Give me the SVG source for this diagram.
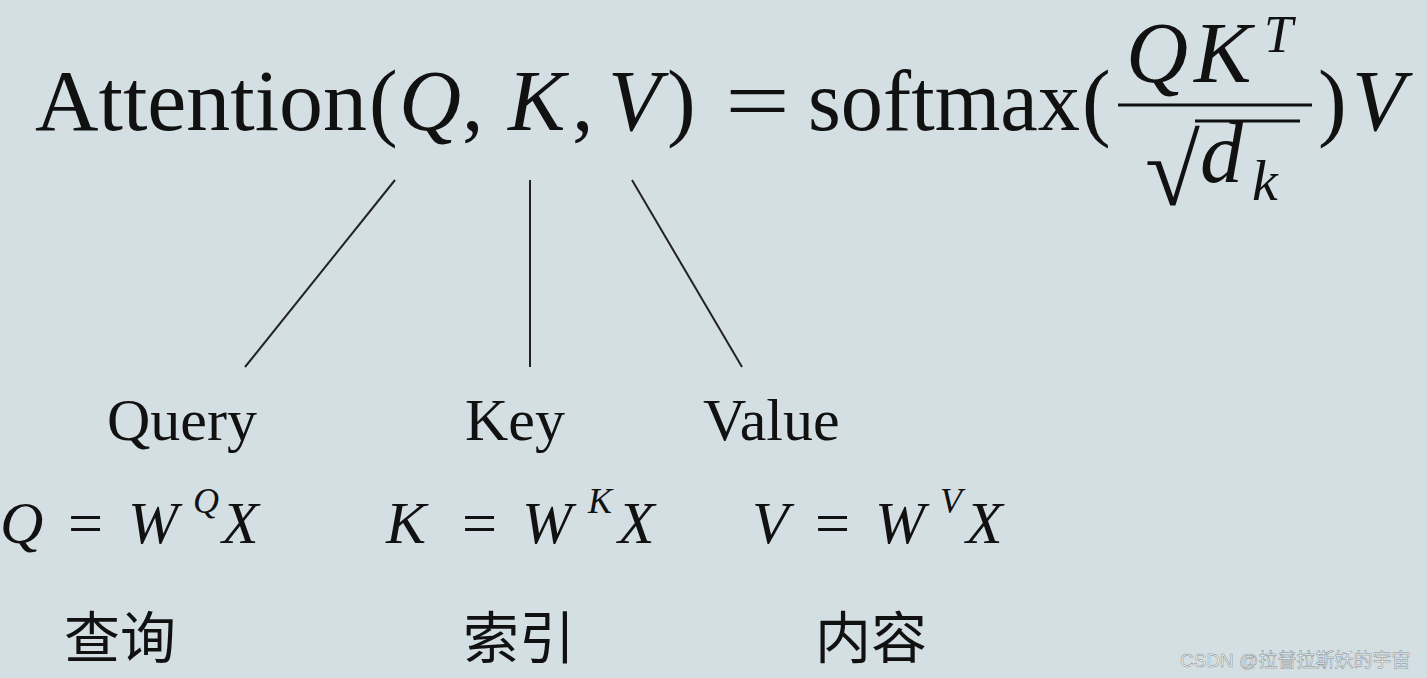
<svg xmlns="http://www.w3.org/2000/svg" width="1427" height="678" viewBox="0 0 1427 678">
<style>
.m{font-family:"Liberation Serif","Times New Roman",serif;fill:#111;}
.i{font-style:italic;}
.lbl{font-family:"Liberation Serif","Times New Roman",serif;font-size:60px;fill:#111;}
.eq{font-family:"Liberation Serif","Times New Roman",serif;font-style:italic;font-size:60px;fill:#111;}
.sup{font-size:36px;}
.cn{font-family:"Noto Sans CJK SC","Noto Sans",sans-serif;font-size:56px;fill:#111;}
.conn line{stroke:#222;stroke-width:2;}
</style>
<rect width="1427" height="678" fill="#d3dfe3"/>
<g id="formula" class="m" font-size="86">
<text x="35" y="130" textLength="332" lengthAdjust="spacingAndGlyphs">Attention</text>
<text x="369" y="130">(</text>
<text x="399" y="130" class="i">Q</text>
<text x="462" y="130">,</text>
<text x="508" y="130" class="i">K</text>
<text x="572" y="130">,</text>
<text x="608" y="130" class="i">V</text>
<text x="667" y="130">)</text>
<text x="725" y="130" textLength="65" lengthAdjust="spacingAndGlyphs">=</text>
<text x="808" y="130" textLength="272" lengthAdjust="spacingAndGlyphs">softmax</text>
<text x="1082" y="130">(</text>
<text x="1126" y="82" class="i">Q</text>
<text x="1194" y="82" class="i">K</text>
<text x="1264" y="52" class="i" font-size="52">T</text>
<line x1="1118" y1="105" x2="1312" y2="105" stroke="#111" stroke-width="3"/>
<text x="1145" y="205" font-size="100">√</text>
<line x1="1195" y1="121" x2="1300" y2="121" stroke="#111" stroke-width="3"/>
<text x="1200" y="182" class="i">d</text>
<text x="1252" y="200" class="i" font-size="58">k</text>
<text x="1318" y="130">)</text>
<text x="1352" y="130" class="i">V</text>
</g>
<g class="conn" id="connectors">
<line x1="395" y1="180" x2="245" y2="367"/>
<line x1="530" y1="180" x2="530" y2="367"/>
<line x1="632" y1="180" x2="742" y2="367"/>
</g>
<g id="query">
<text class="lbl" x="107" y="440">Query</text>
<text class="eq" x="0" y="543">Q</text><text class="eq" x="64" y="543" font-style="normal" textLength="42" lengthAdjust="spacingAndGlyphs">=</text><text class="eq" x="128" y="543">W</text><text class="eq sup" x="193" y="513">Q</text><text class="eq" x="222" y="543">X</text>
<text class="cn" x="64" y="658">查询</text>
</g>
<g id="key">
<text class="lbl" x="465" y="440">Key</text>
<text class="eq" x="386" y="543">K</text><text class="eq" x="458" y="543" font-style="normal" textLength="42" lengthAdjust="spacingAndGlyphs">=</text><text class="eq" x="522" y="543">W</text><text class="eq sup" x="588" y="513">K</text><text class="eq" x="618" y="543">X</text>
<text class="cn" x="463" y="658">索引</text>
</g>
<g id="value">
<text class="lbl" x="703" y="440">Value</text>
<text class="eq" x="752" y="543">V</text><text class="eq" x="811" y="543" font-style="normal" textLength="42" lengthAdjust="spacingAndGlyphs">=</text><text class="eq" x="875" y="543">W</text><text class="eq sup" x="940" y="513">V</text><text class="eq" x="966" y="543">X</text>
<text class="cn" x="815" y="658">内容</text>
</g>
<text x="1180" y="667" font-family="Liberation Sans,'Noto Sans CJK SC',sans-serif" font-size="19" fill="#f7f9fa" stroke="#7f898d" stroke-width="0.5">CSDN @拉普拉斯妖的宇宙</text>
</svg>
